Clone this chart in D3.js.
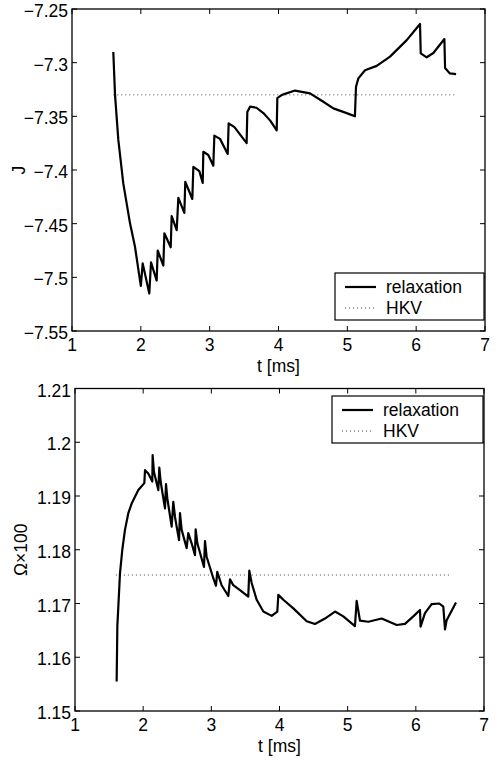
<!DOCTYPE html>
<html><head><meta charset="utf-8">
<script src="https://cdn.jsdelivr.net/npm/d3@7"></script>
<style>body{margin:0;background:#fff;}svg{display:block;font-family:"Liberation Sans",Arial,Helvetica,sans-serif;}</style>
</head><body>
<svg id="c" width="499" height="760"></svg>
<script>
// ---- data ----
const xTicks = [1,2,3,4,5,6,7];
const jTicks = [-7.25,-7.3,-7.35,-7.4,-7.45,-7.5,-7.55];
const jTickLabels = ["\u22127.25","\u22127.3","\u22127.35","\u22127.4","\u22127.45","\u22127.5","\u22127.55"];
const wTicks = [1.15,1.16,1.17,1.18,1.19,1.2,1.21];
const wTickLabels = ["1.15","1.16","1.17","1.18","1.19","1.2","1.21"];
const legendLabels = ["relaxation","HKV"];

const jT = [1.60,1.625,1.673,1.745,1.843,1.915,1.988,2.0,2.027,2.123,2.148,2.23,2.245,2.327,2.342,2.434,2.448,2.521,2.545,2.632,2.646,2.748,2.763,2.85,2.899,2.908,2.98,3.053,3.068,3.15,3.262,3.276,3.36,3.537,3.547,3.586,3.68,3.78,3.88,3.974,3.983,4.05,4.24,4.458,4.651,4.797,4.99,5.11,5.126,5.16,5.257,5.427,5.62,5.863,6.056,6.066,6.153,6.25,6.41,6.42,6.49,6.58];
const jV = [-7.290,-7.330,-7.372,-7.4125,-7.4497,-7.4715,-7.503,-7.508,-7.487,-7.515,-7.486,-7.503,-7.475,-7.489,-7.459,-7.472,-7.443,-7.456,-7.426,-7.440,-7.411,-7.427,-7.397,-7.401,-7.412,-7.383,-7.386,-7.396,-7.368,-7.371,-7.385,-7.3565,-7.360,-7.375,-7.346,-7.341,-7.342,-7.347,-7.354,-7.363,-7.333,-7.330,-7.326,-7.3286,-7.3364,-7.3426,-7.347,-7.350,-7.3224,-7.3146,-7.307,-7.303,-7.2944,-7.279,-7.264,-7.2913,-7.295,-7.291,-7.278,-7.305,-7.310,-7.3106];
const jHKV = -7.330;
const jHKVRange = [1.60,6.58];

const wT = [1.611,1.621,1.660,1.694,1.733,1.782,1.831,1.929,2.017,2.027,2.075,2.134,2.139,2.158,2.222,2.237,2.256,2.32,2.335,2.354,2.418,2.442,2.467,2.526,2.54,2.565,2.638,2.662,2.711,2.760,2.77,2.795,2.892,2.907,2.931,3.029,3.068,3.087,3.151,3.249,3.274,3.322,3.42,3.542,3.557,3.592,3.665,3.763,3.885,3.968,3.983,4.056,4.203,4.399,4.52,4.667,4.814,4.936,5.107,5.132,5.181,5.303,5.499,5.719,5.841,5.963,6.061,6.07,6.134,6.232,6.344,6.403,6.428,6.452,6.589];
const wV = [1.1555,1.1657,1.1756,1.1800,1.1837,1.1868,1.1886,1.1911,1.1924,1.1948,1.1942,1.1927,1.1976,1.1945,1.1911,1.1953,1.1927,1.1877,1.1922,1.1896,1.1843,1.1889,1.1861,1.1818,1.1868,1.1837,1.1803,1.1831,1.1812,1.1790,1.1838,1.1812,1.1768,1.1816,1.1787,1.1747,1.1733,1.1759,1.1734,1.1714,1.1745,1.1734,1.1725,1.1713,1.1761,1.1738,1.1707,1.1685,1.1677,1.1685,1.1716,1.1707,1.1691,1.1667,1.1662,1.1672,1.1685,1.1676,1.1658,1.1705,1.1668,1.1666,1.1672,1.1660,1.1662,1.1676,1.1688,1.1657,1.1682,1.1699,1.1700,1.1694,1.1652,1.1669,1.1702];
const wHKV = 1.1753;
const wHKVRange = [1.60,6.53];

const svg = d3.select("#c");
const FS = 17.5;

function panel(o){
  const x = d3.scaleLinear().domain([1,7]).range([o.left,o.right]);
  const y = d3.scaleLinear().domain(o.ydom).range([o.bottom,o.top]);
  const g = svg.append("g");
  const tl = 5;
  xTicks.forEach(t=>{
    g.append("line").attr("x1",x(t)).attr("x2",x(t)).attr("y1",o.bottom).attr("y2",o.bottom-tl).attr("stroke","#000");
    g.append("line").attr("x1",x(t)).attr("x2",x(t)).attr("y1",o.top).attr("y2",o.top+tl).attr("stroke","#000");
    g.append("text").attr("x",x(t)).attr("y",o.bottom+20).attr("text-anchor","middle").attr("font-size",FS).text(t);
  });
  o.yticks.forEach((t,i)=>{
    g.append("line").attr("x1",o.left).attr("x2",o.left+tl).attr("y1",y(t)).attr("y2",y(t)).attr("stroke","#000");
    g.append("line").attr("x1",o.right).attr("x2",o.right-tl).attr("y1",y(t)).attr("y2",y(t)).attr("stroke","#000");
    g.append("text").attr("x",o.left-4).attr("y",y(t)+8).attr("text-anchor","end").attr("font-size",FS).text(o.ylabels[i]);
  });
  g.append("rect").attr("x",o.left).attr("y",o.top).attr("width",o.right-o.left).attr("height",o.bottom-o.top)
    .attr("fill","none").attr("stroke","#000").attr("stroke-width",1.3);
  g.append("line").attr("x1",x(o.hkvRange[0])).attr("x2",x(o.hkvRange[1])).attr("y1",y(o.hkv)).attr("y2",y(o.hkv))
    .attr("stroke","#444").attr("stroke-width",1).attr("stroke-dasharray","1,3");
  const data = o.t.map((t,i)=>[t,o.v[i]]);
  g.append("path").datum(data).attr("d",d3.line().x(d=>x(d[0])).y(d=>y(d[1])))
    .attr("fill","none").attr("stroke","#000").attr("stroke-width",2.2).attr("stroke-linejoin","round");
  g.append("text").attr("x",(o.left+o.right)/2).attr("y",o.bottom+41).attr("text-anchor","middle").attr("font-size",FS).text("t [ms]");
  g.append("text").attr("transform",`translate(${o.ylx},${(o.top+o.bottom)/2}) rotate(-90)`).attr("text-anchor","middle").attr("font-size",FS).text(o.ylabel);
  const L = o.legend;
  g.append("rect").attr("x",L.x).attr("y",L.y).attr("width",L.w).attr("height",L.h).attr("fill","#fff").attr("stroke","#000").attr("stroke-width",1.2);
  const r1 = L.y+14, r2 = L.y+35;
  g.append("line").attr("x1",L.x+10).attr("x2",L.x+41).attr("y1",r1).attr("y2",r1).attr("stroke","#000").attr("stroke-width",2.2);
  g.append("line").attr("x1",L.x+10).attr("x2",L.x+41).attr("y1",r2).attr("y2",r2).attr("stroke","#444").attr("stroke-width",1).attr("stroke-dasharray","1,3");
  g.append("text").attr("x",L.x+51).attr("y",r1+6).attr("font-size",FS).text(legendLabels[0]);
  g.append("text").attr("x",L.x+51).attr("y",r2+6).attr("font-size",FS).text(legendLabels[1]);
}

panel({left:72,right:485,top:9,bottom:331,ydom:[-7.55,-7.25],yticks:jTicks,ylabels:jTickLabels,
  t:jT,v:jV,hkv:jHKV,hkvRange:jHKVRange,ylabel:"J",ylx:25,
  legend:{x:335,y:273,w:149,h:47}});
panel({left:75,right:484,top:388.5,bottom:711,ydom:[1.15,1.21],yticks:wTicks,ylabels:wTickLabels,
  t:wT,v:wV,hkv:wHKV,hkvRange:wHKVRange,ylabel:"\u03A9\u00D7100",ylx:27,
  legend:{x:332,y:396,w:151,h:47}});
</script>
</body></html>
